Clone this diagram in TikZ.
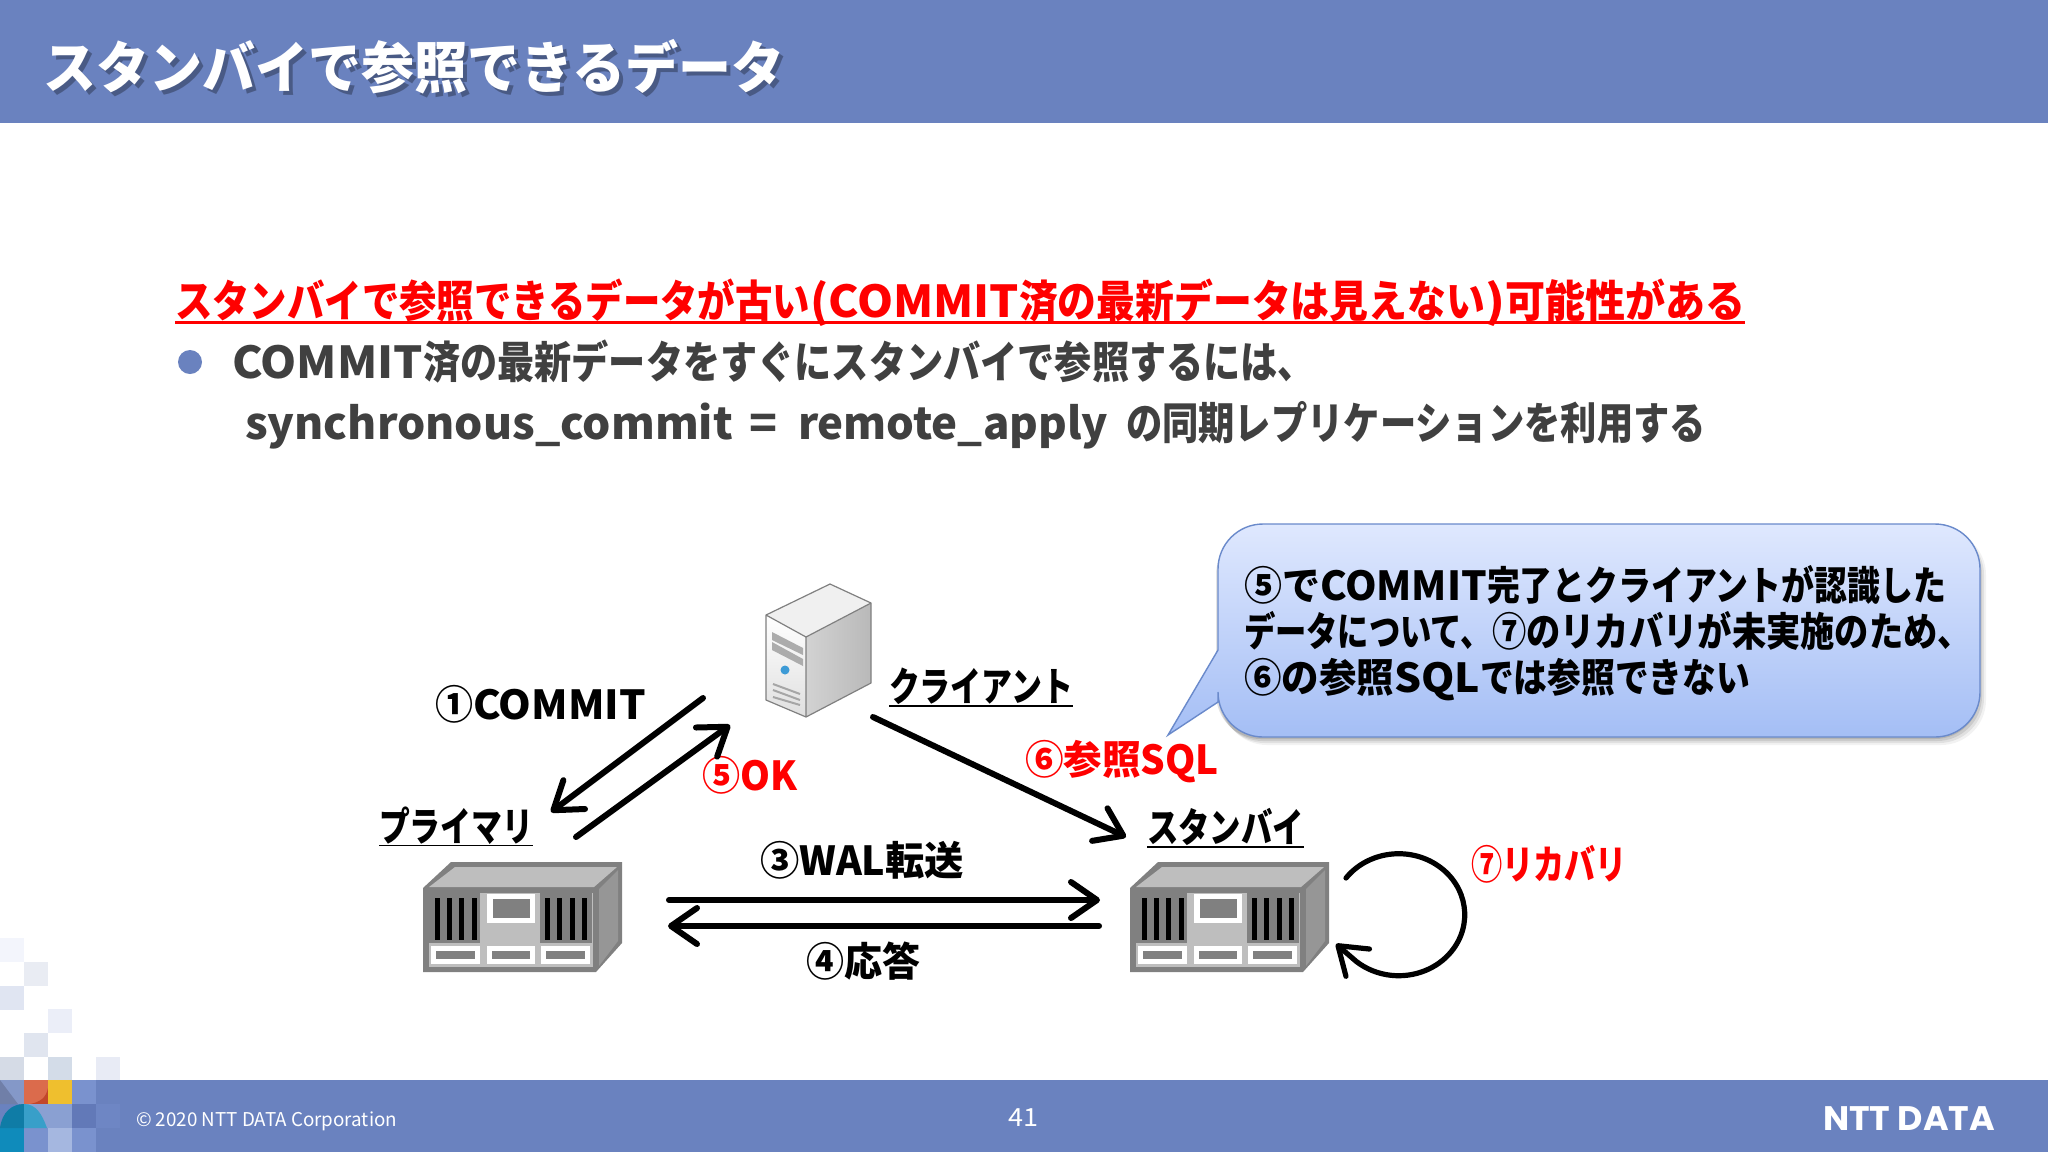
\documentclass[tikz,border=0pt]{standalone}
\usepackage{fontspec}
\usepackage{graphicx}
\usetikzlibrary{arrows.meta}
\setmainfont{Noto Sans CJK JP}
\newfontfamily\logofont{Poppins}
\definecolor{band}{HTML}{6A82BF}
\definecolor{ink}{HTML}{404040}
\definecolor{rackline}{HTML}{808080}
\definecolor{racktop}{HTML}{BEBEBE}
\definecolor{rackside}{HTML}{969696}
\definecolor{redtxt}{HTML}{FF0000}
\definecolor{t1}{HTML}{F3F5FC}\definecolor{t2}{HTML}{E9ECF3}\definecolor{t3}{HTML}{E0E5F2}
\definecolor{t4}{HTML}{EBEEF8}\definecolor{t5}{HTML}{E0E5EF}\definecolor{t6}{HTML}{D5DBE6}
\definecolor{t7}{HTML}{D3DCE8}\definecolor{t8}{HTML}{E8EBF5}
\definecolor{m1}{HTML}{8498C8}\definecolor{m2}{HTML}{707FA8}
\definecolor{m3}{HTML}{DB6B4C}\definecolor{m3d}{HTML}{C2472A}\definecolor{m4}{HTML}{EFBF2E}
\definecolor{m5}{HTML}{7A92CE}\definecolor{m6}{HTML}{0F7CA6}
\definecolor{m7}{HTML}{389FC9}\definecolor{m8}{HTML}{8AA0D2}
\definecolor{m9}{HTML}{0F8BBB}\definecolor{m10}{HTML}{A5B7E0}
\definecolor{m11}{HTML}{6279B8}\definecolor{m12}{HTML}{6E86C4}
\definecolor{calltop}{HTML}{DFE8FE}\definecolor{callbot}{HTML}{A4BEF5}\definecolor{callline}{HTML}{6A8ACB}
\definecolor{led}{HTML}{3D9BD6}
\newlength\fitlen
% width in reference pixels, size in pt, text
\newcommand\T[3]{\setlength\fitlen{#1pt}\setlength\fitlen{0.5\fitlen}\resizebox{\fitlen}{\height}{\fontsize{#2}{#2}\selectfont\bfseries #3}}
\newcommand\R[3]{\setlength\fitlen{#1pt}\setlength\fitlen{0.5\fitlen}\resizebox{\fitlen}{\height}{\fontsize{#2}{#2}\selectfont #3}}
\newcommand\G[1]{\setlength\fitlen{#1pt}\hspace*{0.5\fitlen}}
\tikzset{
 txt/.style={anchor=base west,inner sep=0pt,outer sep=0pt},
 arr/.style={line width=3pt,line cap=round,-{Straight Barb[length=13pt,width=18pt,round]}},
 ul/.style={line width=0.9pt},
 pics/rack/.style={code={
  \fill[rackline] (0,26)--(28,0)--(199,0)--(199,81)--(173,110)--(0,110)--cycle;
  \fill[racktop] (6,25)--(32,5)--(194,5)--(171,25)--cycle;
  \fill[rackside] (176,27)--(195,8)--(195,79)--(176,104)--cycle;
  \fill[racktop] (6,31) rectangle (170,105);
  \fill[rackline] (6,31) rectangle (57,81);
  \fill[rackline] (117,31) rectangle (169,81);
  \foreach \sx in {12,24,36,49,122,134,147,159}{\fill[black] (\sx,36) rectangle ++(4.5,42);}
  \fill[white] (64,32) rectangle (112,61);
  \fill[rackline] (70,37) rectangle (107,56);
  \foreach \bx/\ex in {8/57,64/112,118/167}{
   \fill[white] (\bx,84) rectangle (\ex,102);
   \fill[rackline] (\bx+5,89) rectangle (\ex-5,97);}
 }}
}
\begin{document}
\begin{tikzpicture}[x=0.5pt,y=-0.5pt]
\useasboundingbox (0,0) rectangle (2048,1152);
\fill[white] (0,0) rectangle (2048,1152);
% header and footer bands
\fill[band] (0,0) rectangle (2048,123);
\fill[band] (0,1080) rectangle (2048,1152);
% mosaic above the footer
\fill[t1] (0,938) rectangle ++(24,24);
\fill[t2] (24,962) rectangle ++(24,24);
\fill[t3] (0,986) rectangle ++(24,24);
\fill[t4] (48,1009) rectangle ++(24,24);
\fill[t5] (24,1033) rectangle ++(24,24);
\fill[t6] (0,1057) rectangle ++(24,23);
\fill[t7] (48,1057) rectangle ++(24,23);
\fill[t8] (96,1057) rectangle ++(24,23);
% mosaic in the footer
\fill[m1] (0,1080) rectangle (24,1104);
\fill[m2] (0,1080)--(18,1104)--(0,1104)--cycle;
\fill[m3] (24,1080) rectangle (48,1104);
\fill[m3d] (48,1088) .. controls (46,1098) and (40,1102) .. (30,1104) -- (48,1104) -- cycle;
\fill[m4] (48,1080) rectangle (72,1104);
\fill[m5] (72,1080) rectangle (96,1104);
\fill[m11] (72,1104) rectangle (96,1128);
\fill[m12] (96,1104) rectangle (120,1128);
\fill[m8] (24,1104) rectangle (48,1128);
\fill[m8] (48,1104) rectangle (72,1128);
\fill[m9] (0,1128) rectangle (24,1152);
\fill[m5] (24,1128) rectangle (48,1152);
\fill[m10] (48,1128) rectangle (72,1152);
\fill[m5] (72,1128) rectangle (96,1152);
\fill[m6] (0,1128) .. controls (2,1112) and (12,1104) .. (24,1104) -- (24,1128) -- cycle;
\fill[m7] (24,1104) .. controls (36,1104) and (42,1114) .. (47,1128) -- (24,1128) -- cycle;
% title
\node[txt,text=black,opacity=0.3] (titleshadow) at (47,92) {\T{741}{28}{スタンバイで参照できるデータ}};
\node[txt,text=white] (title) at (43,88) {\T{741}{28}{スタンバイで参照できるデータ}};
% body text
\node[txt,text=redtxt] (l1) at (175,317) {\T{635}{22}{スタンバイで参照できるデータが古い}\T{209}{22}{(COMMIT}\T{466}{22}{済の最新データは見えない}\T{20}{22}{)}\T{240}{22}{可能性がある}};
\draw[redtxt,line width=1.3pt] ([yshift=-2.6pt]l1.base west) -- ([yshift=-2.6pt]l1.base east);
\fill[band] (190,362) circle (12);
\node[txt,text=ink] (l2) at (232,378) {\T{191}{22}{COMMIT}\T{892}{22}{済の最新データをすぐにスタンバイで参照するには、}};
\node[txt,text=ink] (l3) at (245,439) {\T{488}{22}{synchronous\_commit}\G{16}\T{28}{22}{=}\G{21}\T{310}{22}{remote\_apply}\G{18}\T{580}{22}{の同期レプリケーションを利用する}};
% client machine
\fill[gray!12] (766,615)--(830,584)--(871,603)--(806,637)--cycle;
\shade[top color=white,bottom color=gray!25] (766,615)--(806,637)--(806,717)--(766,700)--cycle;
\shade[left color=gray!35,right color=gray!55] (806,637)--(871,603)--(871,683)--(806,717)--cycle;
\draw[gray,line width=0.6pt,line join=round] (766,615)--(830,584)--(871,603)--(871,683)--(806,717)--(766,700)--cycle (766,615)--(806,637)--(871,603) (806,637)--(806,717);
\fill[gray!65] (772,632)--(803,648)--(803,655)--(772,640)--cycle;
\fill[gray!65] (772,642)--(803,659)--(803,666)--(772,650)--cycle;
\draw[gray!70,line width=1pt] (773,684)--(800,694) (773,690)--(800,700) (773,697)--(800,705);
\fill[led] (785,670) circle (4.5);
% racks
\pic at (423,862) {rack};
\pic at (1130,862) {rack};
% callout
\foreach \o/\sh in {8/0.05,6/0.07,4/0.09,2/0.11}{
 \fill[black,opacity=\sh,rounded corners=22.5pt] (1218+\o-4,530) rectangle (1980+\o-2,737+\o);}
\shade[top color=calltop,bottom color=callbot] (1218,702) {[rounded corners=22.5pt] -- (1218,737) -- (1980,737) -- (1980,524) -- (1218,524)} -- (1218,650) -- (1168,735) -- cycle;
\draw[callline,line width=0.7pt] (1218,702) {[rounded corners=22.5pt] -- (1218,737) -- (1980,737) -- (1980,524) -- (1218,524)} -- (1218,650) -- (1168,735) -- cycle;
\node[txt] (c1) at (1244,600) {\T{76}{20}{⑤で}\T{167}{20}{COMMIT}\T{459}{20}{完了とクライアントが認識した}};
\node[txt] (c2) at (1244,646) {\T{248}{20}{データについて、}\T{480}{20}{⑦のリカバリが未実施のため、}};
\node[txt] (c3) at (1244,692) {\T{150}{20}{⑥の参照}\T{86}{20}{SQL}\T{270}{20}{では参照できない}};
% labels
\node[txt] (commit) at (435,719) {\T{38}{20}{①}\T{173}{20}{COMMIT}};
\node[txt,text=redtxt] (okl) at (702,790) {\T{95}{20}{⑤OK}};
\node[txt,text=redtxt] (sql) at (1025,774) {\T{194}{20}{⑥参照SQL}};
\node[txt,text=redtxt] (rec) at (1471,879) {\T{156}{20}{⑦リカバリ}};
\node[txt] (wal) at (760,875) {\T{204}{20}{③WAL転送}};
\node[txt] (ack) at (806,976) {\T{114}{20}{④応答}};
\node[txt] (prim) at (379,841) {\T{154}{20}{プライマリ}};
\draw[ul] ([yshift=-2.2pt]prim.base west) -- ([yshift=-2.2pt]prim.base east);
\node[txt] (clt) at (889,701) {\T{184}{20}{クライアント}};
\draw[ul] ([yshift=-2.4pt]clt.base west) -- ([yshift=-2.4pt]clt.base east);
\node[txt] (stb) at (1147,842) {\T{157}{20}{スタンバイ}};
\draw[ul] ([yshift=-2.4pt]stb.base west) -- ([yshift=-2.4pt]stb.base east);
% connector ends
\coordinate (a1) at (703,698); \coordinate (a2) at (551,812);
\coordinate (b1) at (576,837); \coordinate (b2) at (730,725);
\coordinate (c1s) at (873,717); \coordinate (c2s) at (1126,837);
\coordinate (d1) at (669,900); \coordinate (d2) at (1100,900);
\coordinate (e1) at (1099,926); \coordinate (e2) at (668,926);
\coordinate (f1) at (1346,878); \coordinate (f2) at (1336,944);
\draw[arr] (a1) -- (a2);
\draw[arr] (b1) -- (b2);
\draw[arr] (c1s) -- (c2s);
\draw[arr] (d1) -- (d2);
\draw[arr] (e1) -- (e2);
\draw[arr,line width=2.6pt] (f1) arc[start angle=143,end angle=-130,x radius=33pt,y radius=30.5pt] -- (f2);
% footer
\node[txt,text=white] (copy) at (136,1126) {\R{261}{9.5}{© 2020 NTT DATA Corporation}};
\node[txt,text=white] (page) at (1008,1126) {\R{30}{12.5}{41}};
\node[txt,text=white] (logo) at (1823,1130) {\setlength\fitlen{86pt}\resizebox{\fitlen}{\height}{\logofont\fontsize{17}{17}\selectfont\bfseries NTT DATA}};
\end{tikzpicture}
\end{document}
